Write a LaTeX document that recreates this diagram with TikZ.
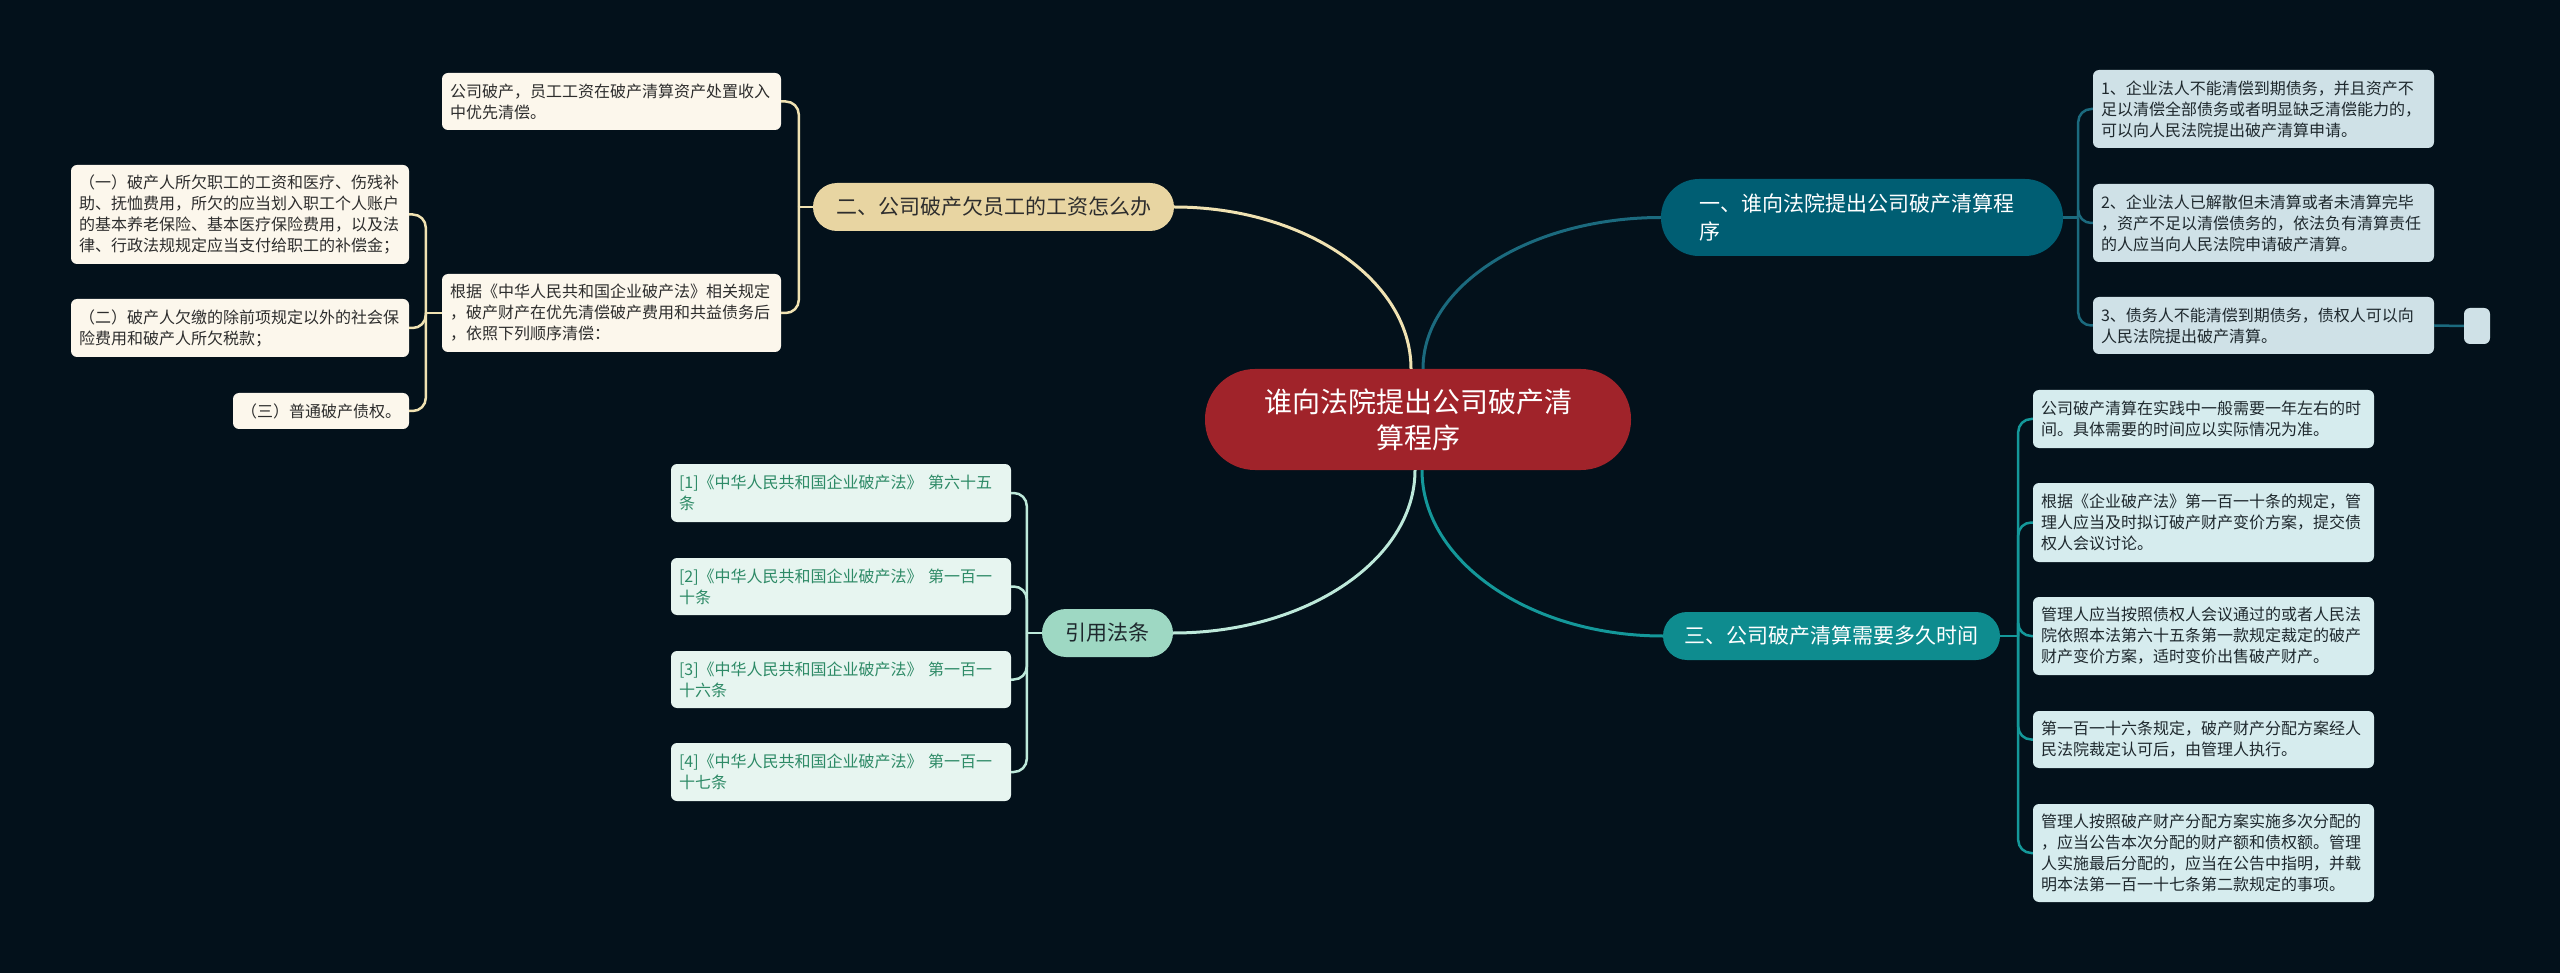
\documentclass[tikz,border=0pt]{standalone}
\usepackage{fontspec}
\newfontfamily\cjk{Noto Sans CJK SC}
\usetikzlibrary{calc}
\definecolor{bg}{RGB}{3,17,27}
\definecolor{cfill}{RGB}{160,35,42}
\definecolor{yfill}{RGB}{232,213,162}
\definecolor{yline}{RGB}{240,226,178}
\definecolor{ybox}{RGB}{252,247,236}
\definecolor{ytext}{RGB}{45,45,45}
\definecolor{t1fill}{RGB}{0,94,115}
\definecolor{t1line}{RGB}{27,106,126}
\definecolor{t1box}{RGB}{207,225,231}
\definecolor{t3fill}{RGB}{14,140,143}
\definecolor{t3line}{RGB}{20,152,154}
\definecolor{t3box}{RGB}{214,236,238}
\definecolor{mfill}{RGB}{158,216,195}
\definecolor{mline}{RGB}{189,233,218}
\definecolor{mbox}{RGB}{231,245,240}
\definecolor{mtext}{RGB}{45,138,102}
\definecolor{dtext}{RGB}{30,40,45}
\tikzset{
  smallfont/.style={font=\cjk\fontsize{16pt}{21pt}\selectfont},
  branchfont/.style={font=\cjk\fontsize{21pt}{28pt}\selectfont},
  childbox/.style={smallfont, inner xsep=8pt, inner ysep=0pt, rounded corners=6pt, align=left},
  abox/.style={childbox, fill=t1box, text=dtext, text width=325pt, minimum width=341pt},
  bbox/.style={childbox, fill=t3box, text=dtext, text width=325pt, minimum width=341pt},
  dbox/.style={childbox, fill=ybox, text=ytext, text width=323pt, minimum width=339pt},
  ebox/.style={childbox, fill=ybox, text=ytext, text width=322pt, minimum width=338pt},
  rbox/.style={childbox, fill=mbox, text=mtext, text width=324pt, minimum width=340pt},
  branch/.style={branchfont, inner sep=0pt, align=center},
  mainline/.style={line width=3pt},
  subline/.style={line width=2.5pt, rounded corners=13pt},
}
\begin{document}
\begin{tikzpicture}[x=1pt,y=-1pt]
\useasboundingbox (0,0) rectangle (2560,973);
\fill[bg] (0,0) rectangle (2560,973);

% central topic
\node[font=\cjk\fontsize{28pt}{36pt}\selectfont, text=white, fill=cfill, rounded corners=50pt,
      minimum width=426pt, minimum height=101pt, inner sep=0pt, align=center, text width=340pt]
      (C) at (1418,419.5) {谁向法院提出公司破产清\\算程序};

% branches
\node[branch, fill=t1fill, text=white, rounded corners=38pt, minimum width=402pt, minimum height=77pt,
      text width=326pt, align=left] (B1) at (1862,217.5) {一、谁向法院提出公司破产清算程\\序};
\node[branch, fill=yfill, text=ytext, rounded corners=24pt, minimum width=361pt, minimum height=48pt]
      (B2) at (993.5,207) {二、公司破产欠员工的工资怎么办};
\node[branch, fill=t3fill, text=white, rounded corners=24pt, minimum width=337pt, minimum height=48pt]
      (B3) at (1831.5,636) {三、公司破产清算需要多久时间};
\node[branch, fill=mfill, text=dtext, rounded corners=24pt, minimum width=131pt, minimum height=48pt]
      (B4) at (1107.5,633) {引用法条};

% branch 1 children
\node[abox, minimum height=78pt] (a1) at (2263.5,109) {1、企业法人不能清偿到期债务，并且资产不\\足以清偿全部债务或者明显缺乏清偿能力的，\\可以向人民法院提出破产清算申请。};
\node[abox, minimum height=78pt] (a2) at (2263.5,223) {2、企业法人已解散但未清算或者未清算完毕\\，资产不足以清偿债务的，依法负有清算责任\\的人应当向人民法院申请破产清算。};
\node[abox, minimum height=57pt] (a3) at (2263.5,325.5) {3、债务人不能清偿到期债务，债权人可以向\\人民法院提出破产清算。};
\node[fill=t1box, rounded corners=6pt, minimum width=26pt, minimum height=36pt, inner sep=0pt] (a4) at (2477,326) {};

% branch 3 children
\node[bbox, minimum height=58pt] (b1) at (2203.5,419) {公司破产清算在实践中一般需要一年左右的时\\间。具体需要的时间应以实际情况为准。};
\node[bbox, minimum height=79pt] (b2) at (2203.5,522.5) {根据《企业破产法》第一百一十条的规定，管\\理人应当及时拟订破产财产变价方案，提交债\\权人会议讨论。};
\node[bbox, minimum height=78pt] (b3) at (2203.5,636) {管理人应当按照债权人会议通过的或者人民法\\院依照本法第六十五条第一款规定裁定的破产\\财产变价方案，适时变价出售破产财产。};
\node[bbox, minimum height=57pt] (b4) at (2203.5,739.5) {第一百一十六条规定，破产财产分配方案经人\\民法院裁定认可后，由管理人执行。};
\node[bbox, minimum height=98pt] (b5) at (2203.5,853) {管理人按照破产财产分配方案实施多次分配的\\，应当公告本次分配的财产额和债权额。管理\\人实施最后分配的，应当在公告中指明，并载\\明本法第一百一十七条第二款规定的事项。};

% branch 2 children
\node[dbox, minimum height=57pt] (d1) at (611.5,101.5) {公司破产，员工工资在破产清算资产处置收入\\中优先清偿。};
\node[dbox, minimum height=78pt] (d2) at (611.5,313) {根据《中华人民共和国企业破产法》相关规定\\，破产财产在优先清偿破产费用和共益债务后\\，依照下列顺序清偿：};
\node[ebox, minimum height=99pt] (e1) at (240,214.5) {（一）破产人所欠职工的工资和医疗、伤残补\\助、抚恤费用，所欠的应当划入职工个人账户\\的基本养老保险、基本医疗保险费用，以及法\\律、行政法规规定应当支付给职工的补偿金；};
\node[ebox, minimum height=58pt] (e2) at (240,328) {（二）破产人欠缴的除前项规定以外的社会保\\险费用和破产人所欠税款；};
\node[childbox, fill=ybox, text=ytext, minimum width=176pt, minimum height=36pt] (e3) at (321,411) {（三）普通破产债权。};

% citations
\node[rbox, minimum height=58pt] (r1) at (841,493) {[1]《中华人民共和国企业破产法》 第六十五\\条};
\node[rbox, minimum height=57pt] (r2) at (841,586.5) {[2]《中华人民共和国企业破产法》 第一百一\\十条};
\node[rbox, minimum height=57pt] (r3) at (841,679.5) {[3]《中华人民共和国企业破产法》 第一百一\\十六条};
\node[rbox, minimum height=58pt] (r4) at (841,772) {[4]《中华人民共和国企业破产法》 第一百一\\十七条};

% central connectors
\coordinate (Cn1) at ([xshift=5pt]C.north);
\coordinate (Cn2) at ([xshift=-7pt]C.north);
\coordinate (Cs1) at ([xshift=-3pt]C.south);
\coordinate (Cs2) at ([xshift=4pt]C.south);
\draw[mainline, t1line] (Cn1) .. controls ($(Cn1)!0.55!(Cn1|-B1.west)$) and ($(B1.west)!0.55!(Cn1|-B1.west)$) .. (B1.west);
\draw[mainline, yline] (Cn2) .. controls ($(Cn2)!0.55!(Cn2|-B2.east)$) and ($(B2.east)!0.55!(Cn2|-B2.east)$) .. (B2.east);
\draw[mainline, mline] (Cs1) .. controls ($(Cs1)!0.55!(Cs1|-B4.east)$) and ($(B4.east)!0.55!(Cs1|-B4.east)$) .. (B4.east);
\draw[mainline, t3line] (Cs2) .. controls ($(Cs2)!0.55!(Cs2|-B3.west)$) and ($(B3.west)!0.55!(Cs2|-B3.west)$) .. (B3.west);

% spine junctions
\coordinate (S1) at ([xshift=15pt]B1.east);
\coordinate (S3) at ([xshift=18pt]B3.east);
\coordinate (S2) at ([xshift=-14pt]B2.west);
\coordinate (Sd) at ([xshift=-16pt]d2.west);
\coordinate (S4) at ([xshift=-15pt]B4.west);

% branch 1 connectors
\draw[subline, t1line] (B1.east) -- (S1);
\foreach \n in {a1,a2,a3}
  \draw[subline, t1line] (S1) |- (\n.west);
\draw[subline, t1line] (a3.east) -- (a4.west);

% branch 3 connectors
\draw[subline, t3line] (B3.east) -- (S3);
\foreach \n in {b1,b2,b3,b4,b5}
  \draw[subline, t3line] (S3) |- (\n.west);

% branch 2 connectors
\draw[subline, yline] (B2.west) -- (S2);
\foreach \n in {d1,d2}
  \draw[subline, yline] (S2) |- (\n.east);
\draw[subline, yline] (d2.west) -- (Sd);
\foreach \n in {e1,e2,e3}
  \draw[subline, yline] (Sd) |- (\n.east);

% citation connectors
\draw[subline, mline] (B4.west) -- (S4);
\foreach \n in {r1,r2,r3,r4}
  \draw[subline, mline] (S4) |- (\n.east);
\end{tikzpicture}
\end{document}
